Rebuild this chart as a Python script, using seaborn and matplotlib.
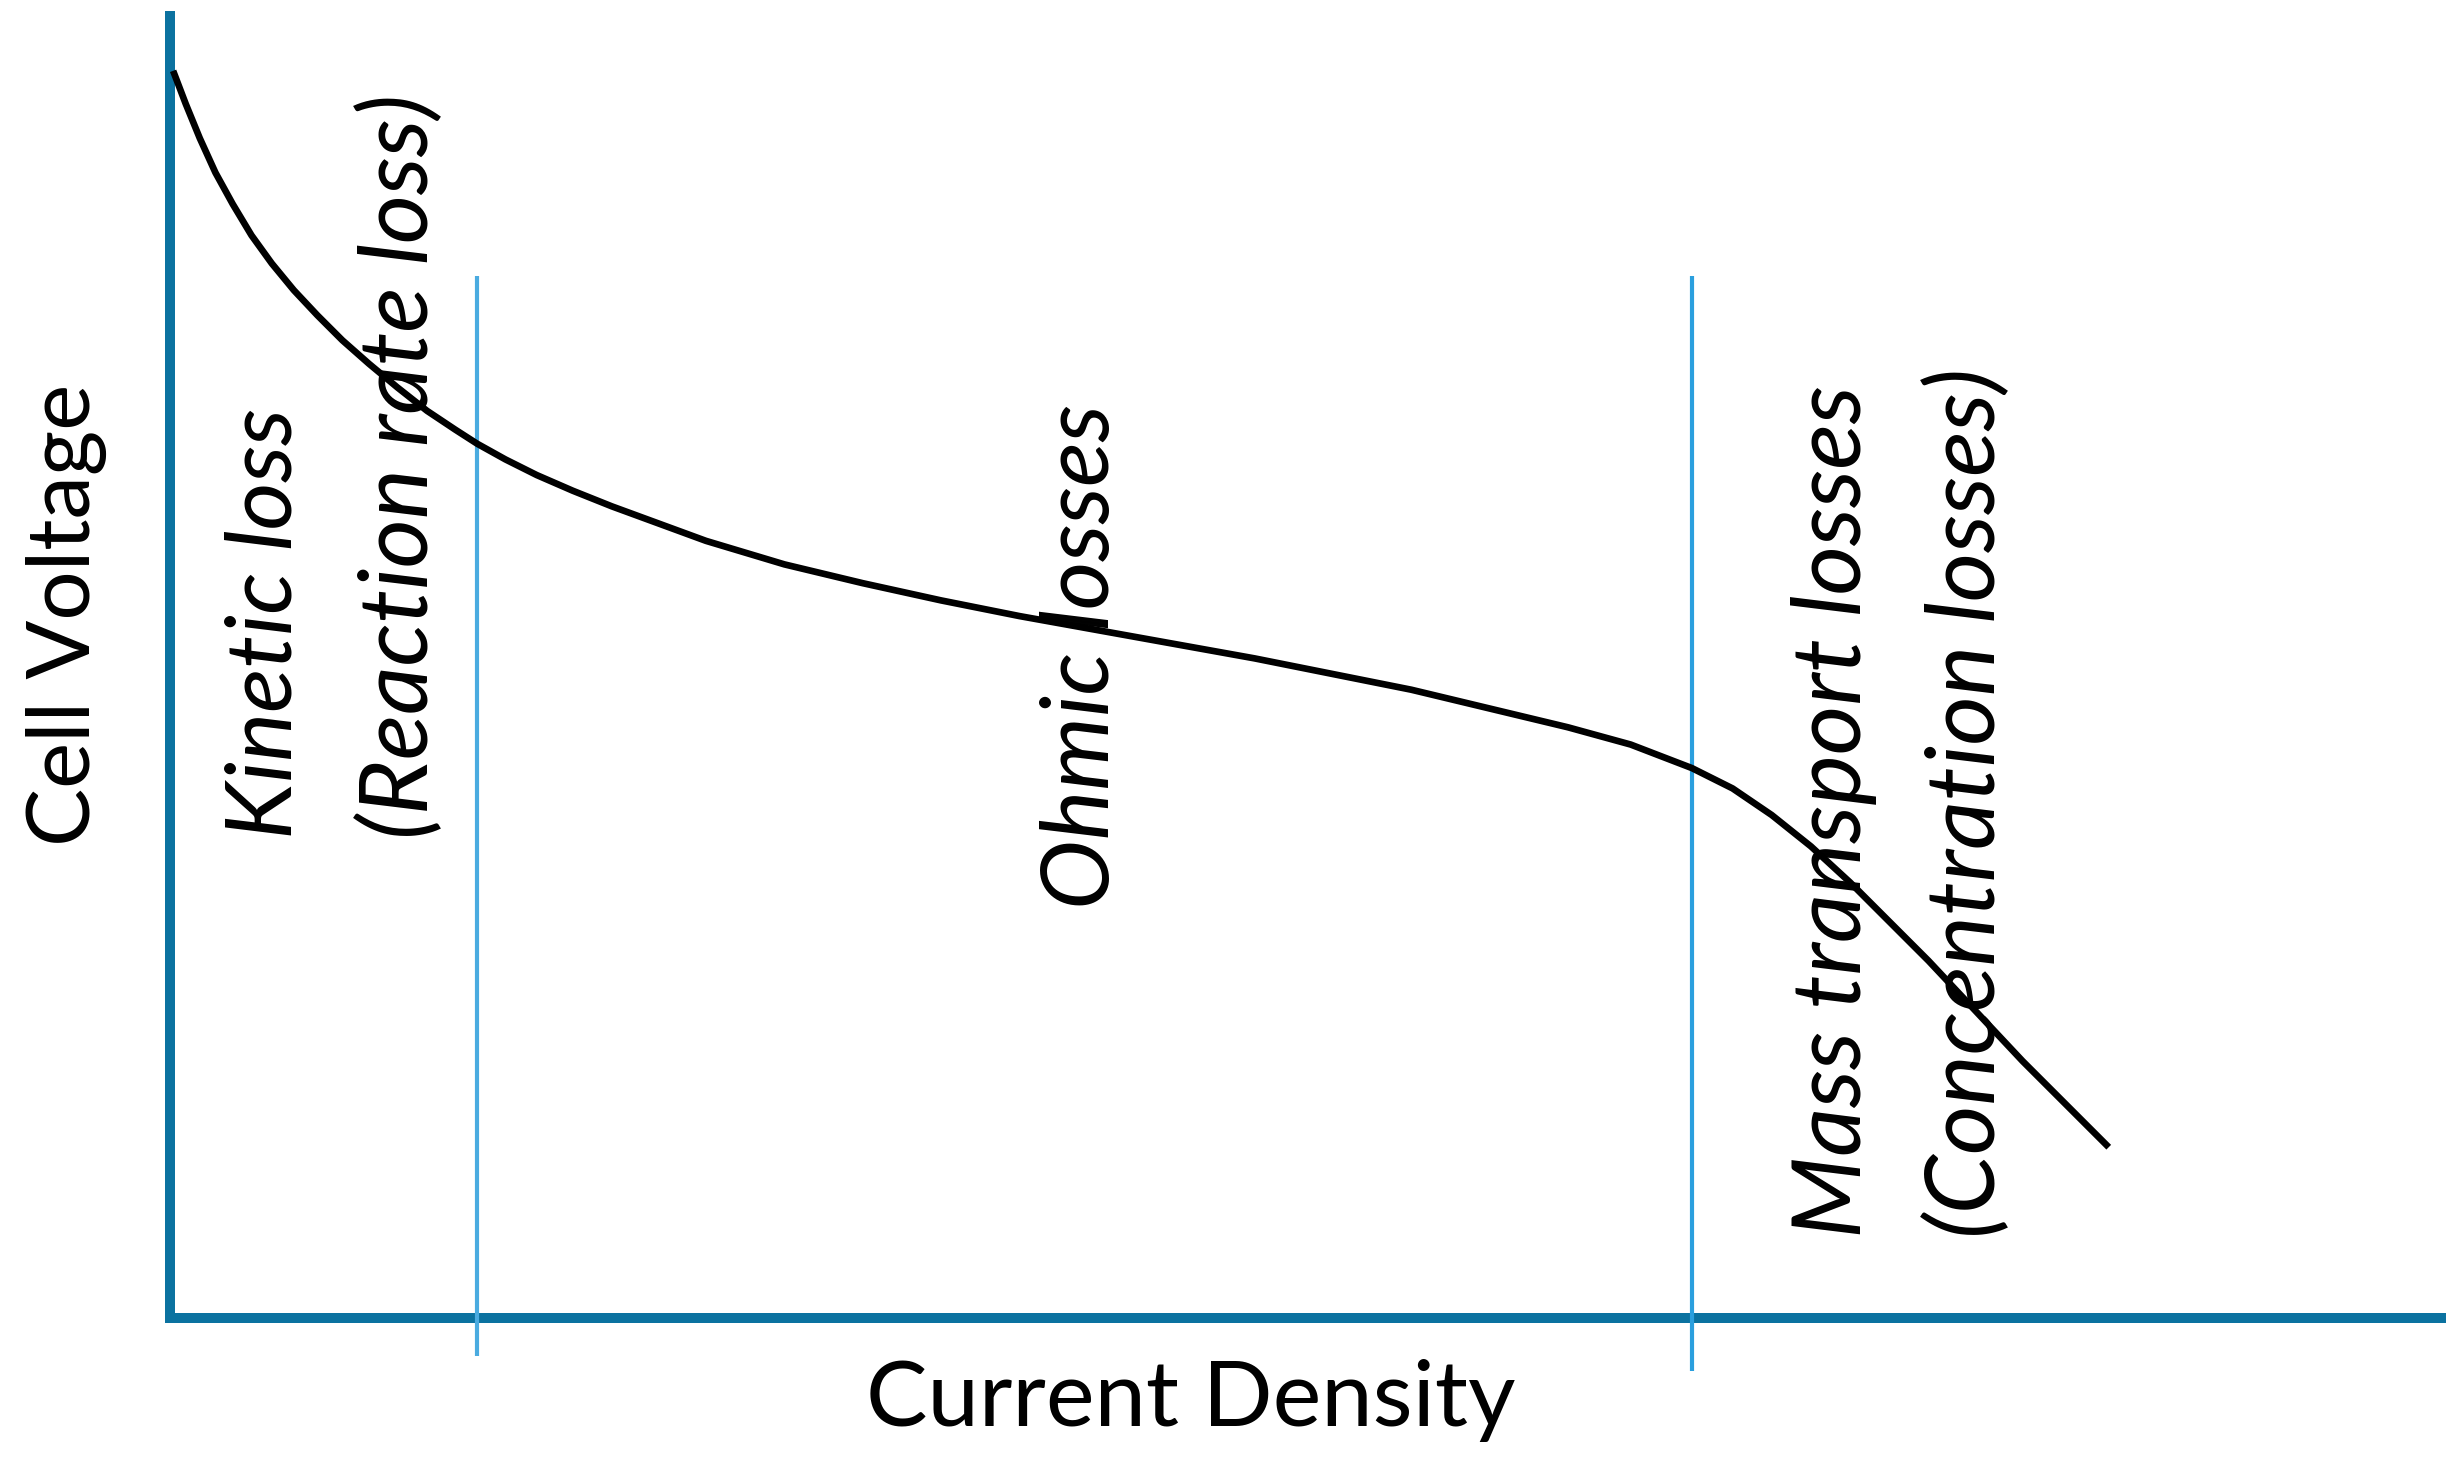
import numpy as np
import pandas as pd
import matplotlib
matplotlib.use("Agg")
import matplotlib.pyplot as plt
import seaborn as sns

# ---- data (arbitrary units) ----
current_density = [2, 10, 19, 29, 40, 52, 65, 79, 94, 110, 127, 145, 164, 182, 196,
                   214, 234, 257, 282, 312, 342, 392, 442, 492, 542, 592, 642, 692,
                   742, 792, 842, 892, 932, 971, 997, 1022, 1047, 1072, 1097, 1122,
                   1152, 1182, 1212, 1237]
cell_voltage = [796, 775, 753, 731, 711, 691, 673, 656, 640, 624, 609, 594, 579, 567,
                558, 548, 538, 528, 518, 507, 496, 481, 469, 458, 448, 439, 430, 421,
                411, 401, 389, 377, 366, 351, 338, 321, 301, 278, 253, 228, 196, 164,
                134, 109]
region_bounds = [196, 971]
region_labels = ["Kinetic loss\n(Reaction rate loss)", "Ohmic losses",
                 "Mass transport losses\n(Concentration losses)"]
x_label = "Current Density"
y_label = "Cell Voltage"

W, H = 2458, 1479
sns.set_theme(style="white")
plt.rcParams["font.family"] = ["Lato", "DejaVu Sans"]

fig = plt.figure(figsize=(W / 100, H / 100), dpi=100)
ax_l, ax_r, ax_t, ax_b = 170, 2441, 16, 1318
ax = fig.add_axes([ax_l / W, 1 - ax_b / H, (ax_r - ax_l) / W, (ax_b - ax_t) / H])
ax.set_xlim(0, 1449)
ax.set_ylim(0, 831)

df = pd.DataFrame({"j": current_density, "v": cell_voltage})
line_ax = sns.lineplot(data=df, x="j", y="v", color="black", linewidth=4.8, ax=ax, sort=False)
for ln in ax.lines:
    ln.set_solid_joinstyle("round")
    ln.set_solid_capstyle("butt")

# region boundary lines (extend below the x axis)
ax.plot([region_bounds[0]] * 2, [665, -24], color="#4AABE0", lw=3.0, clip_on=False,
        solid_capstyle="butt", zorder=1)
ax.plot([region_bounds[1]] * 2, [665, -34], color="#2A9FDE", lw=3.0, clip_on=False,
        solid_capstyle="butt", zorder=1)

for s in ["top", "right"]:
    ax.spines[s].set_visible(False)
for s in ["left", "bottom"]:
    ax.spines[s].set_color("#0B72A0")
    ax.spines[s].set_linewidth(7.2)
    ax.spines[s].set_zorder(0)
ax.set_xticks([])
ax.set_yticks([])
ax.set_xlabel("")
ax.set_ylabel("")

renderer = fig.canvas.get_renderer()


def fit(t, target, vertical):
    for _ in range(3):
        bb = t.get_window_extent(renderer)
        cur = bb.height if vertical else bb.width
        t.set_fontsize(t.get_fontsize() * target / cur)


def ftext(x, y, s, target, vertical, **kw):
    t = fig.text(x / W, 1 - y / H, s, color="black", **kw)
    fit(t, target, vertical)
    return t


ftext(66, 615, y_label, 462, True, rotation=90, ha="center", va="center", fontsize=60)
ftext(1191, 1400, x_label, 649, False, ha="center", va="center", fontsize=60)

k1, k2 = region_labels[0].split("\n")
m1, m2 = region_labels[2].split("\n")
italic = dict(rotation=90, ha="center", va="bottom", style="italic", fontsize=60)
ftext(266, 839, k1, 431, True, **italic)
ftext(400, 839, k2, 745, True, **italic)
ftext(1082, 909, region_labels[1], 505, True, **italic)
ftext(1834, 1238, m1, 854, True, **italic)
ftext(1967, 1238, m2, 870, True, **italic)

fig.savefig("out.png", dpi=100, facecolor="white")
